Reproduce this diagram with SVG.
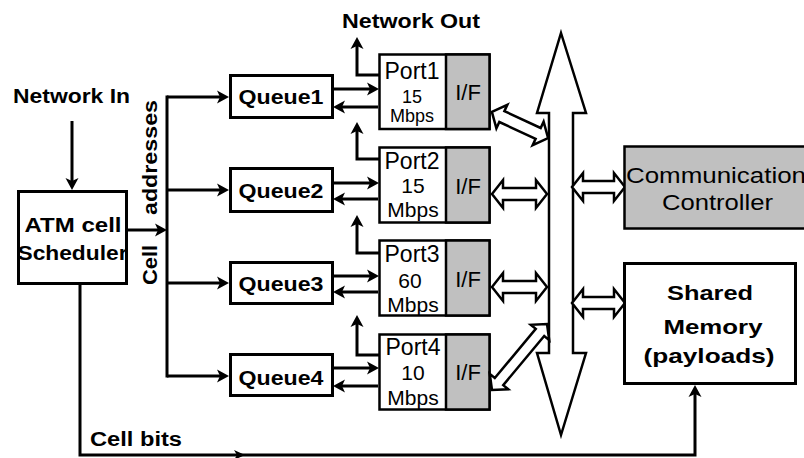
<svg xmlns="http://www.w3.org/2000/svg" width="804" height="458" viewBox="0 0 804 458">
<style>
text{font-family:"Liberation Sans",Arial,sans-serif;fill:#000}
.b{font-weight:bold}
.box{fill:#fff;stroke:#000;stroke-width:3}
.port{fill:#fff;stroke:#000;stroke-width:2.5}
.gray{fill:#c0c0c0;stroke:#000;stroke-width:2.5}
.ln{fill:none;stroke:#000;stroke-width:3;stroke-linejoin:miter}
.arr{marker-end:url(#ah)}
.dbl{fill:#fff;stroke:#000;stroke-width:2.5;stroke-linejoin:miter}
.pt{font-size:23px;text-anchor:middle}
.rate{font-size:21px;text-anchor:middle}
.rate1{font-size:18px;text-anchor:middle}
.if{font-size:22px;text-anchor:middle}
.q{font-size:20px;font-weight:bold;text-anchor:middle}
</style>
<defs>
<marker id="ah" markerUnits="userSpaceOnUse" markerWidth="14" markerHeight="14" refX="8" refY="6.5" orient="auto" overflow="visible">
<path d="M0,0 L12,6.5 L0,13 L3,6.5 z" fill="#000"/>
</marker>
</defs>
<rect width="804" height="458" fill="#fff"/>

<!-- free-standing labels -->
<g id="labels">
<text class="b" x="13" y="103" font-size="21" textLength="117" lengthAdjust="spacingAndGlyphs">Network In</text>
<text class="b" x="342" y="28" font-size="21" textLength="138" lengthAdjust="spacingAndGlyphs">Network Out</text>
<!-- vertical label, read bottom to top; the scheduler arrow passes between the words -->
<text class="b" font-size="21" transform="rotate(-90)"><tspan x="-285" y="157" textLength="40" lengthAdjust="spacingAndGlyphs">Cell</tspan> <tspan x="-215" y="157" textLength="115" lengthAdjust="spacingAndGlyphs">addresses</tspan></text>
<text class="b" x="90" y="446" font-size="20" textLength="92" lengthAdjust="spacingAndGlyphs">Cell bits</text>
</g>

<!-- connectors -->
<g id="connectors">
<path class="ln arr" d="M72,121 V186"/>
<path class="ln arr" d="M128,230 H163"/>
<path class="ln" stroke-linecap="square" d="M167,97 V376"/>
<path class="ln arr" d="M167,97 H225"/>
<path class="ln arr" d="M167,190 H225"/>
<path class="ln arr" d="M167,283 H225"/>
<path class="ln arr" d="M167,376 H225"/>
<!-- queue to port and back -->
<path class="ln arr" d="M334,89 H375"/>
<path class="ln arr" d="M378,107 H337"/>
<path class="ln arr" d="M334,183 H375"/>
<path class="ln arr" d="M378,199 H337"/>
<path class="ln arr" d="M334,276 H375"/>
<path class="ln arr" d="M378,292 H337"/>
<path class="ln arr" d="M334,368 H375"/>
<path class="ln arr" d="M378,386 H337"/>
<!-- network out taps -->
<path class="ln arr" d="M379,75 H357 V41"/>
<path class="ln arr" d="M379,159 H357 V126"/>
<path class="ln arr" d="M379,253 H357 V219"/>
<path class="ln arr" d="M379,355 H357 V319"/>
<!-- cell bits to shared memory -->
<path class="ln arr" d="M80,285 V455 H695 V389"/>
<path d="M234,450 L245,455 L234,460 L237,455 z" fill="#000"/>
</g>

<g id="atm-scheduler">
<rect class="box" x="18.5" y="191.5" width="108" height="92"/>
<text class="b" x="73" y="232" font-size="21" text-anchor="middle" textLength="97" lengthAdjust="spacingAndGlyphs">ATM cell</text>
<text class="b" x="72.5" y="260" font-size="21" text-anchor="middle" textLength="110" lengthAdjust="spacingAndGlyphs">Scheduler</text>
</g>

<g id="queue1">
<rect class="box" x="230.5" y="75.5" width="102" height="42"/>
<text class="q" x="281" y="104" textLength="85" lengthAdjust="spacingAndGlyphs">Queue1</text>
</g>
<g id="queue2">
<rect class="box" x="230.5" y="168.5" width="102" height="43"/>
<text class="q" x="281" y="198" textLength="85" lengthAdjust="spacingAndGlyphs">Queue2</text>
</g>
<g id="queue3">
<rect class="box" x="230.5" y="262.5" width="102" height="41"/>
<text class="q" x="281" y="291" textLength="85" lengthAdjust="spacingAndGlyphs">Queue3</text>
</g>
<g id="queue4">
<rect class="box" x="230.5" y="354.5" width="102" height="41"/>
<text class="q" x="281" y="385" textLength="85" lengthAdjust="spacingAndGlyphs">Queue4</text>
</g>

<g id="port1">
<rect class="port" x="379.5" y="54.5" width="110" height="74.5"/>
<rect class="gray" x="446" y="54.5" width="43.5" height="74.5"/>
<text class="pt" x="412" y="79">Port1</text>
<text class="rate1" x="412" y="103">15</text>
<text class="rate1" x="412" y="122">Mbps</text>
<text class="if" x="468" y="100">I/F</text>
</g>
<g id="port2">
<rect class="port" x="379.5" y="147.5" width="110" height="75"/>
<rect class="gray" x="446" y="147.5" width="43.5" height="75"/>
<text class="pt" x="412" y="169">Port2</text>
<text class="rate" x="413" y="193">15</text>
<text class="rate" x="413" y="217">Mbps</text>
<text class="if" x="468" y="194">I/F</text>
</g>
<g id="port3">
<rect class="port" x="379.5" y="240.5" width="110" height="75"/>
<rect class="gray" x="446" y="240.5" width="43.5" height="75"/>
<text class="pt" x="412" y="262">Port3</text>
<text class="rate" x="410" y="288">60</text>
<text class="rate" x="413" y="312">Mbps</text>
<text class="if" x="468" y="287">I/F</text>
</g>
<g id="port4">
<rect class="port" x="379.5" y="334.5" width="110" height="75"/>
<rect class="gray" x="446" y="334.5" width="43.5" height="75"/>
<text class="pt" x="413" y="355">Port4</text>
<text class="rate" x="413" y="380">10</text>
<text class="rate" x="413" y="405">Mbps</text>
<text class="if" x="468" y="380">I/F</text>
</g>

<!-- shared bus with its two-way links -->
<g id="memory-bus">
<polygon class="dbl" stroke-width="3" points="561,33 586,113 573,113 573,353 586,353 561,435 537,353 549,353 549,113 537,113"/>
</g>
<g id="bus-links">
<polygon class="dbl" transform="translate(520,125) rotate(24.9)" points="-31,0 -20,-13 -20,-6 20,-6 20,-13 31,0 20,13 20,6 -20,6 -20,13"/>
<polygon class="dbl" points="492,194 503,180 503,188 536,188 536,180 547,194 536,208 536,200 503,200 503,208"/>
<polygon class="dbl" points="492,287 503,273 503,281 536,281 536,273 547,287 536,301 536,293 503,293 503,301"/>
<polygon class="dbl" transform="translate(519.5,357) rotate(-50.2)" points="-43,0 -32,-12 -32,-5.5 32,-5.5 32,-12 43,0 32,12 32,5.5 -32,5.5 -32,12"/>
<polygon class="dbl" points="572,187 583,173 583,181 614,181 614,173 625,187 614,201 614,193 583,193 583,201"/>
<polygon class="dbl" points="572,303 583,289 583,297 614,297 614,289 625,303 614,317 614,309 583,309 583,317"/>
</g>

<g id="communication-controller">
<rect class="gray" x="624.5" y="146.5" width="190" height="82" stroke-width="3"/>
<text x="626" y="183" font-size="22" textLength="180" lengthAdjust="spacingAndGlyphs">Communication</text>
<text x="662" y="210" font-size="22" textLength="111" lengthAdjust="spacingAndGlyphs">Controller</text>
</g>

<g id="shared-memory">
<rect class="box" x="624.5" y="263.5" width="171" height="120"/>
<text class="b" x="710" y="300" font-size="21" text-anchor="middle" textLength="86" lengthAdjust="spacingAndGlyphs">Shared</text>
<text class="b" x="713" y="334" font-size="21" text-anchor="middle" textLength="99" lengthAdjust="spacingAndGlyphs">Memory</text>
<text class="b" x="709" y="363" font-size="21" text-anchor="middle" textLength="131" lengthAdjust="spacingAndGlyphs">(payloads)</text>
</g>
</svg>
